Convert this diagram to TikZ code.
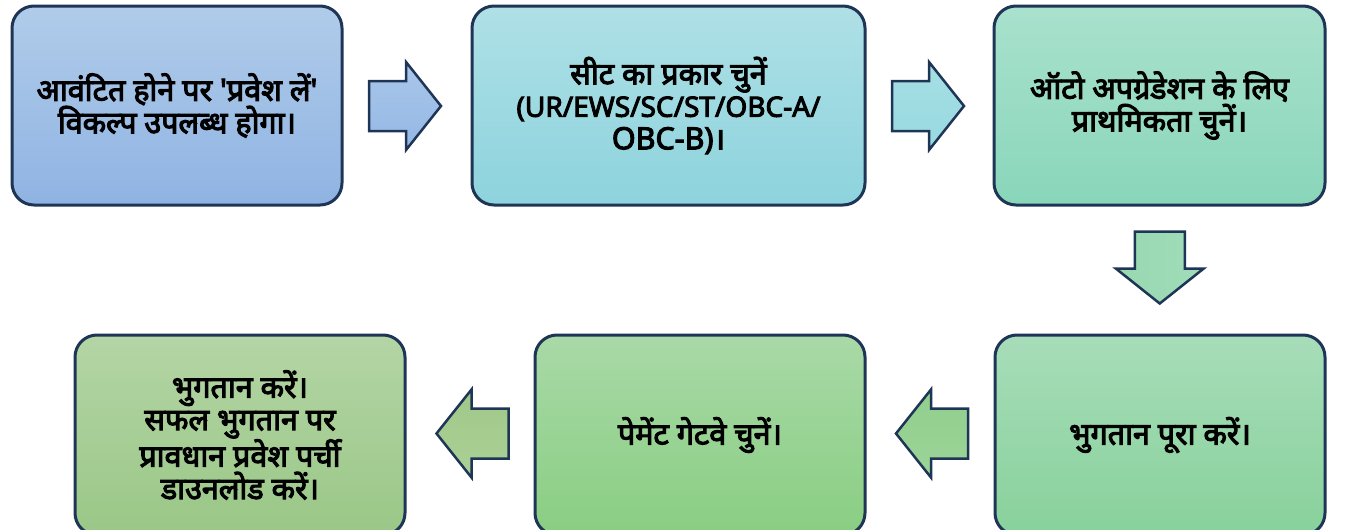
\documentclass[tikz,border=0pt]{standalone}
\usepackage{fontspec}
\newfontfamily\hindi[Script=Devanagari, FakeBold=3.5]{Noto Sans}
\usetikzlibrary{calc}
\definecolor{boxline}{HTML}{1F3556}
\begin{document}
\begin{tikzpicture}[x=1pt,y=-1pt,
  box/.style={draw=boxline, line width=3pt, rounded corners=22pt,
    minimum width=330pt, minimum height=199pt, align=center, inner sep=0pt,
    font=\hindi\fontsize{30.5}{32.5}\selectfont},
  arrowline/.style={draw=boxline, line width=2.5pt, line join=miter},
  pics/barrow/.style={code={\path[pic actions] (-36,-25)--(1,-25)--(1,-44)--(36,0)--(1,44)--(1,25)--(-36,25)--cycle;}}
]
\useasboundingbox (0,0) rectangle (1353,530);
\node[box, top color={rgb,255:red,177;green,204;blue,234}, bottom color={rgb,255:red,143;green,179;blue,226}] (b1) at (177,105.5)
  {आवंटित होने पर 'प्रवेश लें'\\विकल्प उपलब्ध होगा।};
\node[box, minimum width=393pt, top color={rgb,255:red,175;green,224;blue,230}, bottom color={rgb,255:red,141;green,211;blue,221}] (b2) at (668.5,105.5)
  {सीट का प्रकार चुनें\\\fontsize{28}{32.5}\selectfont(UR/EWS/SC/ST/OBC-A/\\OBC-B)।};
\node[box, minimum width=331pt, top color={rgb,255:red,169;green,225;blue,205}, bottom color={rgb,255:red,137;green,214;blue,186}] (b3) at (1159.5,105.5)
  {ऑटो अपग्रेडेशन के लिए\\प्राथमिकता चुनें।};
\node[box, minimum height=200pt, top color={rgb,255:red,167;green,221;blue,185}, bottom color={rgb,255:red,136;green,209;blue,155}] (b6) at (1160,435)
  {भुगतान पूरा करें।};
\node[box, minimum height=200pt, top color={rgb,255:red,169;green,217;blue,167}, bottom color={rgb,255:red,137;green,206;blue,130}] (b5) at (700,435)
  {पेमेंट गेटवे चुनें।};
\node[box, minimum height=200pt, top color={rgb,255:red,180;green,213;blue,165}, bottom color={rgb,255:red,154;green,199;blue,135}] (b4) at (240,435)
  {भुगतान करें।\\सफल भुगतान पर\\प्रावधान प्रवेश पर्ची\\डाउनलोड करें।};
\pic[arrowline, top color={rgb,255:red,170;green,198;blue,234}, bottom color={rgb,255:red,147;green,184;blue,228}] at ($(b1.east)!0.5!(b2.west)+(-2,0.5)$) {barrow};
\pic[arrowline, top color={rgb,255:red,165;green,223;blue,228}, bottom color={rgb,255:red,152;green,217;blue,224}] at ($(b2.east)!0.5!(b3.west)+(-1.5,0.5)$) {barrow};
\pic[arrowline, rotate=-90, left color={rgb,255:red,152;green,216;blue,176}, right color={rgb,255:red,160;green,220;blue,186}] at ($(b3.south)!0.5!(b6.north)+(0,-2.5)$) {barrow};
\pic[arrowline, rotate=180, top color={rgb,255:red,145;green,206;blue,140}, bottom color={rgb,255:red,156;green,212;blue,152}] at ($(b6.west)!0.5!(b5.east)+(2,-1.5)$) {barrow};
\pic[arrowline, rotate=180, top color={rgb,255:red,160;green,200;blue,137}, bottom color={rgb,255:red,172;green,208;blue,150}] at ($(b5.west)!0.5!(b4.east)+(2.5,-1.5)$) {barrow};
\end{tikzpicture}
\end{document}
